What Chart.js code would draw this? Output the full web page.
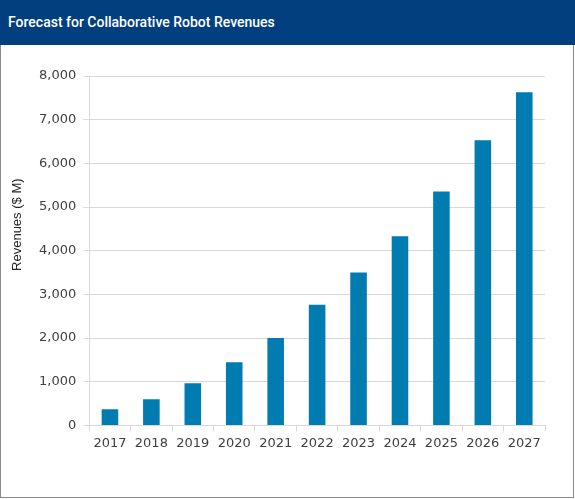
<!DOCTYPE html>
<html>
<head>
<meta charset="utf-8">
<script src="https://cdn.jsdelivr.net/npm/chart.js@4/dist/chart.umd.min.js"></script>
<style>
    body { margin: 0; background: #fff; }
    #frame { position: relative; width: 575px; height: 499px; overflow: hidden; }
    #header {
        position: absolute; left: 0; top: 0; width: 575px; height: 45px;
        background: #023f7e; color: #fff;
        font: 500 14px Roboto, sans-serif; line-height: 45px;
        padding-left: 8px; box-sizing: border-box;
    }
    #box {
        position: absolute; left: 0; top: 45px; width: 574px; height: 453px;
        border: 1px solid #8a8a8a; border-top: none; box-sizing: border-box;
    }
    #wrap { position: absolute; left: 2px; top: 47px; width: 570px; height: 449px; }
</style>
</head>
<body>
<div id="frame">
    <div id="header">Forecast for Collaborative Robot Revenues</div>
    <div id="box"></div>
    <div id="wrap"><canvas id="chart"></canvas></div>
</div>
<script>
const years = ['2017', '2018', '2019', '2020', '2021', '2022', '2023', '2024', '2025', '2026', '2027'];
const revenues = [370, 600, 965, 1445, 2000, 2760, 3500, 4330, 5355, 6530, 7630];
const yTicks = [0, 1000, 2000, 3000, 4000, 5000, 6000, 7000, 8000];
const yTitle = 'Revenues ($ M)';

// y axis title sits a bit above the middle of the plot, so draw it by hand
const yTitlePlugin = {
    id: 'yTitle',
    afterDraw(chart) {
        const ctx = chart.ctx;
        const area = chart.chartArea;
        ctx.save();
        ctx.translate(15, (area.top + area.bottom) / 2 - 26);
        ctx.rotate(-Math.PI / 2);
        ctx.font = '13px "Liberation Sans", Arial, sans-serif';
        ctx.fillStyle = '#262626';
        ctx.textAlign = 'center';
        ctx.textBaseline = 'middle';
        ctx.fillText(yTitle, 0, 0);
        ctx.restore();
    }
};

new Chart(document.getElementById('chart'), {
    type: 'bar',
    data: {
        labels: years,
        datasets: [{
            data: revenues,
            backgroundColor: '#007cb1',
            barPercentage: 0.4,
            categoryPercentage: 1
        }]
    },
    options: {
        responsive: true,
        maintainAspectRatio: false,
        animation: false,
        layout: { padding: { left: 30, right: 27, top: 29, bottom: 41 } },
        plugins: {
            legend: { display: false },
            tooltip: { enabled: false }
        },
        scales: {
            x: {
                grid: {
                    display: true,
                    drawOnChartArea: false,
                    color: '#d9d9d9',
                    tickLength: 6,
                    offset: true
                },
                border: { color: '#d9d9d9' },
                ticks: {
                    color: '#404040',
                    font: { family: '"DejaVu Sans", Verdana, sans-serif', size: 13 },
                    padding: 4,
                    maxRotation: 0
                }
            },
            y: {
                min: 0,
                max: 8000,
                afterBuildTicks: (axis) => {
                    axis.ticks = yTicks.map(v => ({ value: v }));
                },
                grid: { color: '#d9d9d9', tickLength: 6 },
                border: { color: '#d9d9d9' },
                ticks: {
                    color: '#404040',
                    font: { family: '"DejaVu Sans", Verdana, sans-serif', size: 13 },
                    padding: 7,
                    callback: (v) => v.toLocaleString('en-US')
                }
            }
        }
    },
    plugins: [yTitlePlugin]
});
</script>
</body>
</html>
